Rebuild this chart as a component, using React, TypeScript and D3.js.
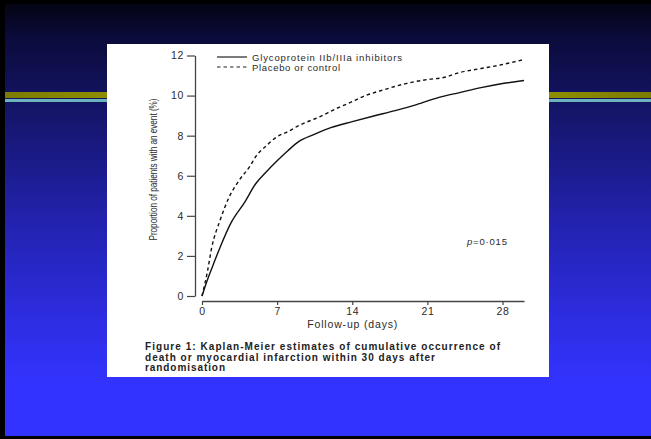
import { useRef, useEffect } from 'react';
import * as d3 from 'd3';

// Kaplan-Meier readings: days since randomisation -> cumulative events (%)
const gpDays = [0, 0.5, 1, 1.7, 2.7, 4, 5, 6, 7, 8, 9, 10.4, 12, 14, 16, 18, 20, 22, 24, 26, 28, 30];
const gpRisk = [0, 0.8, 1.5, 2.45, 3.65, 4.7, 5.6, 6.2, 6.75, 7.25, 7.7, 8.05, 8.4, 8.7, 8.98, 9.25, 9.55, 9.9, 10.15, 10.4, 10.6, 10.75];

const placeboDays = [0, 0.5, 0.9, 1.7, 2.5, 3.5, 4.5, 5, 6, 7, 8, 9, 11, 12.5, 14, 15, 17, 19, 21, 22.5, 24, 26, 28, 30];
const placeboRisk = [0, 1.2, 2.4, 3.8, 4.9, 5.8, 6.5, 6.95, 7.5, 7.95, 8.2, 8.5, 8.95, 9.35, 9.7, 9.95, 10.3, 10.6, 10.8, 10.9, 11.15, 11.35, 11.55, 11.8];

const yTicks = [0, 2, 4, 6, 8, 10, 12];
const xTicks = [0, 7, 14, 21, 28];
const legendLabels = ['Glycoprotein IIb/IIIa inhibitors', 'Placebo or control'];
const captionLines = [
  'Figure 1: Kaplan-Meier estimates of cumulative occurrence of',
  'death or myocardial infarction within 30 days after',
  'randomisation'
];

export default function App() {
  const ref = useRef<SVGSVGElement>(null);

  useEffect(() => {
    document.body.style.margin = '0';
    if (!ref.current) return;
    const width = 651;
    const height = 439;
    const svg = d3.select(ref.current).attr('width', width).attr('height', height);
    svg.selectAll('*').remove();

    const defs = svg.append('defs');
    const bg = defs.append('linearGradient').attr('id', 'bg').attr('x1', 0).attr('y1', 0).attr('x2', 0).attr('y2', 1);
    [[0, '#040414'], [0.08, '#0b0b3c'], [0.25, '#15156a'], [0.5, '#2222ae'], [0.75, '#2e2ee6'], [0.88, '#3333ff'], [1, '#3333ff']]
      .forEach(([o, c]) => bg.append('stop').attr('offset', o as number).attr('stop-color', c as string));
    const olive = defs.append('linearGradient').attr('id', 'olive');
    [[0, '#7c7c00'], [0.5, '#b4b400'], [1, '#7c7c00']]
      .forEach(([o, c]) => olive.append('stop').attr('offset', o as number).attr('stop-color', c as string));

    // slide background
    svg.append('rect').attr('width', width).attr('height', height).attr('fill', '#000');
    svg.append('rect').attr('x', 5).attr('y', 4).attr('width', width - 5).attr('height', 432).attr('fill', 'url(#bg)');
    svg.append('rect').attr('x', 5).attr('y', 92).attr('width', width - 5).attr('height', 6).attr('fill', 'url(#olive)');
    svg.append('rect').attr('x', 5).attr('y', 99).attr('width', width - 5).attr('height', 3).attr('fill', '#6db3bd');

    // white figure panel
    svg.append('rect').attr('x', 107).attr('y', 44).attr('width', 442).attr('height', 333).attr('fill', '#fff');

    const x = d3.scaleLinear().domain([0, 30]).range([202, 524]);
    const y = d3.scaleLinear().domain([0, 12]).range([296, 55.5]);
    const font = 'Liberation Sans, Arial, sans-serif';
    const ink = '#2a2a2a';

    const yAxis = svg.append('g')
      .attr('transform', 'translate(195,0)')
      .call(d3.axisLeft(y).tickValues(yTicks).tickSize(8).tickSizeOuter(0).tickPadding(3));
    const xAxis = svg.append('g')
      .attr('transform', 'translate(0,301)')
      .call(d3.axisBottom(x).tickValues(xTicks).tickSize(4).tickSizeOuter(0).tickPadding(3));
    [yAxis, xAxis].forEach(g => {
      g.select('.domain').attr('stroke', '#444').attr('stroke-width', 1.3);
      g.selectAll('.tick line').attr('stroke', '#444').attr('stroke-width', 1.2);
      g.selectAll('.tick text').attr('fill', ink).style('font-family', font)
        .style('font-size', '10.5px').style('letter-spacing', '0.6px');
    });

    svg.append('text')
      .attr('transform', `translate(157,${(99 + 240) / 2}) rotate(-90)`)
      .attr('text-anchor', 'middle')
      .attr('textLength', 142)
      .attr('lengthAdjust', 'spacingAndGlyphs')
      .style('font-family', font).style('font-size', '11px').attr('fill', ink)
      .text('Proportion of patients with an event (%)');

    svg.append('text')
      .attr('x', x(14)).attr('y', 327.5)
      .attr('text-anchor', 'middle')
      .attr('textLength', 90)
      .style('font-family', font).style('font-size', '10.5px').attr('fill', ink)
      .text('Follow-up (days)');

    const line = d3.line<[number, number]>()
      .x(d => x(d[0]))
      .y(d => y(d[1]))
      .curve(d3.curveMonotoneX);

    const series = [
      { days: gpDays, risk: gpRisk, dash: null },
      { days: placeboDays, risk: placeboRisk, dash: '3.5,3' }
    ];
    series.forEach(s => {
      svg.append('path')
        .datum(s.days.map((d, i) => [d, s.risk[i]] as [number, number]))
        .attr('fill', 'none')
        .attr('stroke', '#111')
        .attr('stroke-width', 1.4)
        .attr('stroke-dasharray', s.dash)
        .attr('d', line);
    });

    // legend
    const legendLengths = [150, 88];
    legendLabels.forEach((label, i) => {
      const ly = 57 + i * 10;
      svg.append('line')
        .attr('x1', 217).attr('x2', 247).attr('y1', ly).attr('y2', ly)
        .attr('stroke', '#222').attr('stroke-width', 1.2)
        .attr('stroke-dasharray', series[i].dash);
      svg.append('text')
        .attr('x', 252).attr('y', ly + 3.5)
        .attr('textLength', legendLengths[i])
        .style('font-family', font).style('font-size', '9.5px').attr('fill', ink)
        .text(label);
    });

    const p = svg.append('text')
      .attr('x', 467).attr('y', 245)
      .style('font-family', font).style('font-size', '9.5px').style('letter-spacing', '0.8px').attr('fill', ink);
    p.append('tspan').style('font-style', 'italic').text('p');
    p.append('tspan').text('=0·015');

    const captionLengths = [355, 290, 80];
    captionLines.forEach((c, i) => {
      svg.append('text')
        .attr('x', 145).attr('y', 350 + i * 10.5)
        .attr('textLength', captionLengths[i])
        .style('font-family', font).style('font-size', '10px').style('font-weight', 'bold').attr('fill', '#222')
        .text(c);
    });
  }, []);

  return <svg ref={ref} style={{ display: 'block' }}></svg>;
}
